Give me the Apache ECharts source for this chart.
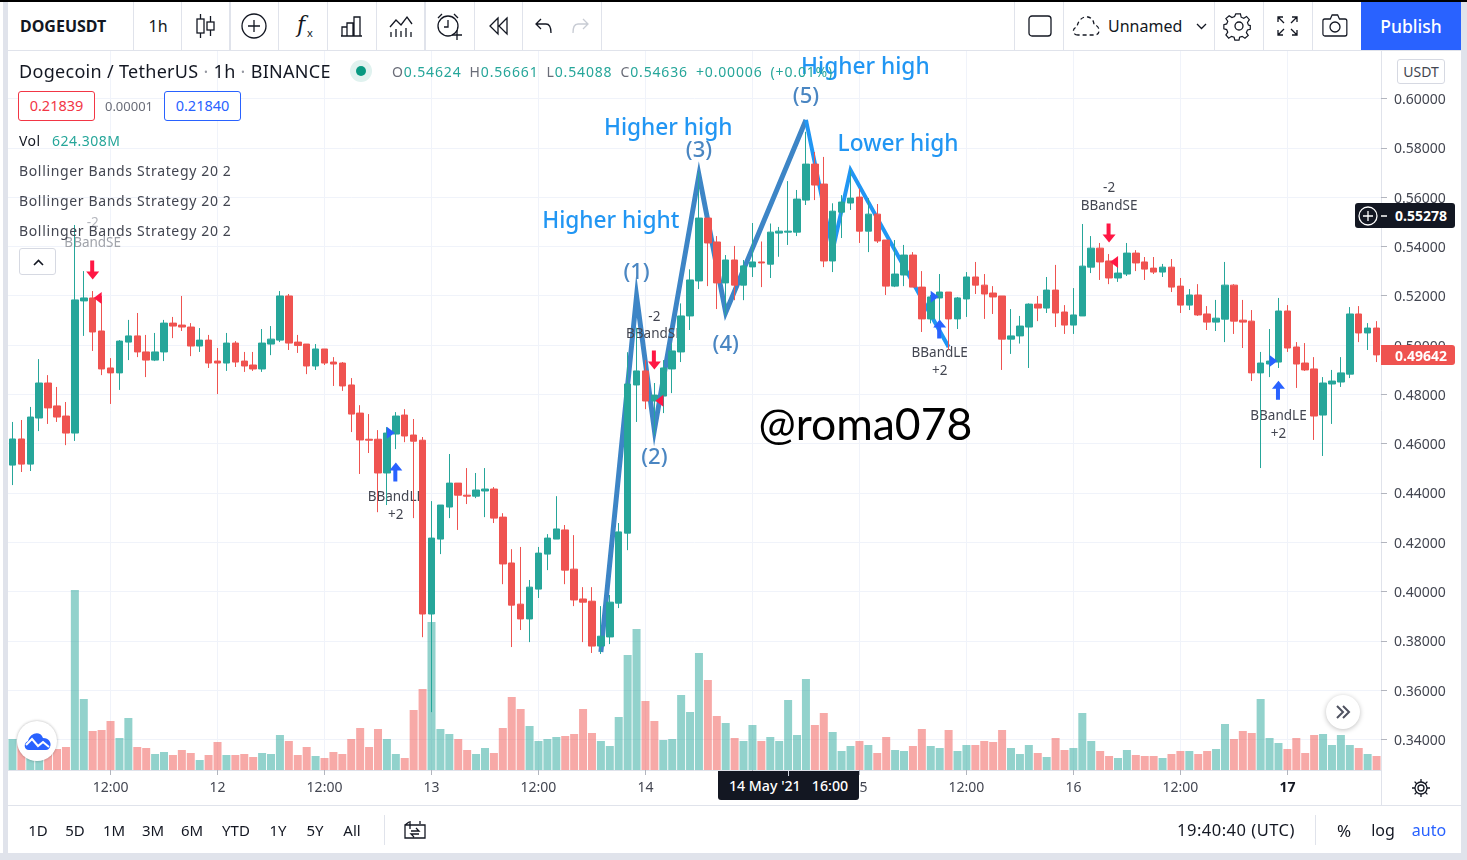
<!DOCTYPE html>
<html><head><meta charset="utf-8">
<script src="https://cdn.jsdelivr.net/npm/echarts@6/dist/echarts.min.js"></script>
<style>
html,body{margin:0;padding:0;width:1467px;height:860px;overflow:hidden;background:#fff;font-family:"Noto Sans",sans-serif;color:#131722}
#chart{position:absolute;left:0;top:0;width:1467px;height:860px}
.b{position:absolute;background:#e0e3eb}
.t{position:absolute;transform:translateY(-50%);white-space:nowrap;font-size:14px;line-height:1}
.c{position:absolute;transform:translate(-50%,-50%);white-space:nowrap;font-size:15px;line-height:1}
.box{position:absolute;box-sizing:border-box;border-radius:3px;display:flex;align-items:center;justify-content:center;font-size:14.5px;background:#fff}
svg{position:absolute;overflow:visible;fill:none;stroke:#131722;stroke-width:1.3}
</style></head><body>
<div id="chart"></div>
<div id="ui">
<div class="b" style="left:0;top:2px;width:1467px;height:48px;background:#fff"></div>
<div class="b" style="left:0;top:0;width:1467px;height:2px;background:#000"></div>
<div class="b" style="left:8px;top:50px;width:1453px;height:1px"></div>
<div class="b" style="left:3px;top:2px;width:5px;height:851px"></div>
<div class="b" style="left:1461px;top:2px;width:6px;height:858px"></div>
<div class="b" style="left:0;top:853px;width:1467px;height:7px"></div>
<div class="b" style="left:8px;top:805px;width:1453px;height:1px"></div>
<div class="b" style="left:1381px;top:770px;width:1px;height:35px"></div>
<div class="b" style="left:133px;top:2px;width:1px;height:48px"></div>
<div class="b" style="left:181px;top:2px;width:1px;height:48px"></div>
<div class="b" style="left:229px;top:2px;width:2px;height:48px"></div>
<div class="b" style="left:278px;top:2px;width:1px;height:48px"></div>
<div class="b" style="left:327px;top:2px;width:1px;height:48px"></div>
<div class="b" style="left:376px;top:2px;width:1px;height:48px"></div>
<div class="b" style="left:424px;top:2px;width:2px;height:48px"></div>
<div class="b" style="left:474px;top:2px;width:1px;height:48px"></div>
<div class="b" style="left:522px;top:2px;width:1px;height:48px"></div>
<div class="b" style="left:601px;top:2px;width:1px;height:48px"></div>
<div class="b" style="left:1014px;top:2px;width:1px;height:48px"></div>
<div class="b" style="left:1063px;top:2px;width:1px;height:48px"></div>
<div class="b" style="left:1214px;top:2px;width:1px;height:48px"></div>
<div class="b" style="left:1263px;top:2px;width:1px;height:48px"></div>
<div class="b" style="left:1312px;top:2px;width:1px;height:48px"></div>
<div class="t" style="left:20px;top:26px;font-size:16px;font-weight:700">DOGEUSDT</div>
<div class="c" style="left:158px;top:26px;font-size:16px">1h</div>
<svg style="left:195px;top:14px" width="22" height="24"><path d="M5.5 0v5M5.5 19v5M15.5 2v6M15.5 16v6"/><rect x="2" y="5" width="7" height="14"/><rect x="12" y="8" width="7" height="8"/></svg>
<svg style="left:241px;top:13px" width="26" height="26"><circle cx="13" cy="13" r="12"/><path d="M13 7v12M7 13h12"/></svg>
<div class="c" style="left:301px;top:25px;font-size:22px;font-style:italic;font-family:'DejaVu Serif'">f</div>
<div class="c" style="left:310px;top:32px;font-size:11px">x</div>
<svg style="left:340px;top:15px" width="23" height="22"><path d="M1 21h21M2 21v-9h5v9M7 21v-13h6v13M14 21v-19h6v19"/></svg>
<svg style="left:389px;top:15px" width="24" height="23"><path d="M1 12l6-7 5 5 6-8 5 7M2 22v-5M7 22v-8M12 22v-6M17 22v-9M22 22v-5"/></svg>
<svg style="left:436px;top:13px" width="28" height="28"><circle cx="12" cy="13" r="10"/><path d="M12 7v7h-4M2 5l4-4M18 1l4 4M16 22h10M21 17v10"/></svg>
<svg style="left:489px;top:17px" width="20" height="18"><path d="M9 1l-8 8 8 8zM18 1l-8 8 8 8z"/></svg>
<svg style="left:535px;top:18px" width="18" height="16"><path d="M6 1l-5 5 5 5M1 6h10c4 0 5 3 5 9"/></svg>
<svg style="left:571px;top:18px;stroke:#c8ccd4" width="18" height="16"><path d="M12 1l5 5-5 5M17 6h-10c-4 0-5 3-5 9"/></svg>
<svg style="left:1028px;top:15px" width="24" height="22"><rect x="1" y="1" width="22" height="20" rx="3"/></svg>
<svg style="left:1072px;top:15px;stroke-dasharray:4 3" width="30" height="22"><path d="M6 20c-6 0-6-7-1-8 1-7 6-11 11-10 4 1 6 4 6 8 6 0 7 10 1 10z"/></svg>
<div class="t" style="left:1108px;top:26px;font-size:16px">Unnamed</div>
<svg style="left:1196px;top:23px" width="11" height="7"><path d="M1 1l4.500 4.500 4.500-4.500"/></svg>
<svg style="left:1226px;top:13px" width="26" height="26"><circle cx="13" cy="13" r="4"/><path d="M10.500 1h5l.8 3.500 2.800 1.200 3-2 3 3.500-2 3 1 2.800 2 .5v4l-3 .8-1.200 2.800 2 3-3.500 3-3-2-2.800 1-.6 3h-4.500l-.8-3-2.800-1-3 2-3-3.500 2-3-1.200-2.800-3-.8v-4.500l3-.8 1.200-2.800-2-3 3.500-3 3 2 2.800-1.200z" transform="scale(.93)"/></svg>
<svg style="left:1277px;top:16px" width="21" height="20"><path d="M1 6v-5h5M1 1l6 6M20 6v-5h-5M20 1l-6 6M1 14v5h5M1 19l6-6M20 14v5h-5M20 19l-6-6"/></svg>
<svg style="left:1322px;top:14px" width="28" height="23"><path d="M3 5h6l2-4h6l2 4h6c1 0 2 1 2 2v13c0 1-1 2-2 2H3c-1 0-2-1-2-2V7c0-1 1-2 2-2z" transform="scale(.92,1)"/><circle cx="13" cy="13" r="5"/></svg>
<div class="box" style="left:1361px;top:2px;width:100px;height:48px;background:#2962ff;color:#fff;font-size:17.5px;font-weight:500;border-radius:0">Publish</div>

<div class="t" style="left:19px;top:71px;font-size:18px;letter-spacing:.3px">Dogecoin / TetherUS <span style="color:#9598a1">·</span> 1h <span style="color:#9598a1">·</span> BINANCE</div>
<div style="position:absolute;left:350px;top:60px;width:22px;height:22px;border-radius:50%;background:#e0f2ef"></div>
<div style="position:absolute;left:356px;top:66px;width:10px;height:10px;border-radius:50%;background:#089981"></div>
<div class="t" style="left:392px;top:72px;font-size:14px;color:#26a69a;letter-spacing:.85px;word-spacing:3.5px"><span style="color:#6a6d78">O</span>0.54624 <span style="color:#6a6d78">H</span>0.56661 <span style="color:#6a6d78">L</span>0.54088 <span style="color:#6a6d78">C</span>0.54636 +0.00006 (+0.01%)</div>
<div class="box" style="left:18px;top:91px;width:77px;height:30px;border:1px solid #f23645;color:#f23645;padding-bottom:2px">0.21839</div>
<div class="c" style="left:129px;top:106px;font-size:13px;color:#6a6d78">0.00001</div>
<div class="box" style="left:164px;top:91px;width:77px;height:30px;border:1px solid #2962ff;color:#2962ff;padding-bottom:2px">0.21840</div>
<div class="t" style="left:19px;top:141px;font-size:14px;color:#131722;letter-spacing:.5px">Vol</div>
<div class="t" style="left:52px;top:141px;font-size:14px;color:#26a69a;letter-spacing:.5px">624.308M</div>
<div class="t" style="left:19px;top:171px;font-size:14px;color:#434651;letter-spacing:.65px">Bollinger Bands Strategy 20 2</div>
<div class="t" style="left:19px;top:201px;font-size:14px;color:#434651;letter-spacing:.65px">Bollinger Bands Strategy 20 2</div>
<div class="t" style="left:19px;top:231px;font-size:14px;color:#434651;letter-spacing:.65px">Bollinger Bands Strategy 20 2</div>
<div class="box" style="left:19px;top:248px;width:37px;height:27px;border:1px solid #d6d9e2"><svg style="left:13px;top:10px" width="11" height="7"><path d="M1 6l4.500-4.500 4.500 4.500" stroke-width="1.600"/></svg></div>
<div class="box" style="left:1397px;top:59px;width:48px;height:25px;border:1px solid #d6d9e2;font-size:14px;color:#434651">USDT</div>

<div class="box" style="left:1355px;top:203px;width:100px;height:25px;background:#131722;color:#fff;font-size:14px;font-weight:700;justify-content:flex-end;padding-right:8px">0.55278</div>
<svg style="left:1358px;top:206px;stroke:#fff" width="20" height="20"><circle cx="10" cy="10" r="9"/><path d="M10 5v10M5 10h10M23 10h6"/></svg>
<div class="box" style="left:1381px;top:345px;width:74px;height:20px;background:#ef5350;color:#fff;font-size:14px;font-weight:700;justify-content:flex-end;padding-right:8px;border-radius:0 3px 3px 0">0.49642</div>

<div class="box" style="left:718px;top:771px;width:141px;height:29px;background:#131722;color:#fff;font-size:14.2px;font-weight:500;border-radius:0 0 3px 3px">14 May '21&nbsp;&nbsp;&nbsp;16:00</div>
<div style="position:absolute;left:788px;top:771px;width:1px;height:5px;background:#d1d4dc"></div>
<svg style="left:1412px;top:779px" width="18" height="18"><circle cx="9" cy="9" r="3"/><circle cx="9" cy="9" r="6"/><path d="M9 0v3M9 15v3M0 9h3M15 9h3M2.600 2.600l2.100 2.100M13.300 13.300l2.100 2.100M2.600 15.400l2.100-2.100M13.300 4.700l2.100-2.100"/></svg>

<div class="c" style="left:38px;top:829.5px">1D</div><div class="c" style="left:75px;top:829.5px">5D</div><div class="c" style="left:114px;top:829.5px">1M</div><div class="c" style="left:153px;top:829.5px">3M</div><div class="c" style="left:192px;top:829.5px">6M</div><div class="c" style="left:236px;top:829.5px">YTD</div><div class="c" style="left:278px;top:829.5px">1Y</div><div class="c" style="left:315px;top:829.5px">5Y</div><div class="c" style="left:352px;top:829.5px">All</div>
<div class="b" style="left:384px;top:815px;width:1px;height:30px"></div>
<svg style="left:404px;top:820px" width="22" height="19"><path d="M1 5h20v13H1zM6 1v8M16 1v3M1 5l4-3M7 11h8l-3-3M15 14H7l3 3"/></svg>
<div class="t" style="left:1177px;top:830px;font-size:16.5px;letter-spacing:.5px">19:40:40 (UTC)</div>
<div class="b" style="left:1315px;top:815px;width:1px;height:30px"></div>
<div class="c" style="left:1344px;top:830px;font-size:17px">%</div>
<div class="c" style="left:1383px;top:830px;font-size:16px">log</div>
<div class="c" style="left:1429px;top:830px;font-size:16px;color:#2962ff">auto</div>

<div style="position:absolute;left:17px;top:721px;width:40px;height:40px;border-radius:50%;background:#fff;box-shadow:0 0 3px rgba(0,0,0,.3)"></div>
<svg style="left:24px;top:732px;stroke:#fff;stroke-width:2" width="27" height="18"><path d="M5 18c-5 0-6-7-1-9 2-8 12-11 15-3 6 0 9 5 7 9-1 2-2 3-4 3z" fill="#2962ff" stroke="none"/><path d="M2 13l6-6 6 7 5-4 6 5"/></svg>
<div style="position:absolute;left:1326px;top:695px;width:34px;height:34px;border-radius:50%;background:#fff;box-shadow:0 1px 5px rgba(0,0,0,.25)"></div>
<svg style="left:1335px;top:704px;stroke:#4f5260;stroke-width:2" width="16" height="16"><path d="M2 2l6 6-6 6M8 2l6 6-6 6"/></svg>
</div>
<script>
const opens=[.4513,.4619,.4517,.4704,.4846,.4753,.4712,.4643,.5179,.5191,.5057,.4907,.4887,.5012,.5037,.4972,.4939,.4972,.5089,.5081,.5073,.4996,.5020,.4935,.4927,.5008,.4935,.4919,.4903,.5004,.5020,.5199,.5012,.5004,.4915,.4984,.4931,.4927,.4838,.4724,.4618,.4618,.4481,.4639,.4716,.4635,.4614,.3909,.4213,.4343,.4440,.4391,.4387,.4408,.4416,.4302,.4116,.3949,.3889,.4010,.4152,.4213,.4250,.4091,.3970,.3961,.3779,.3816,.3953,.4237,.4838,.4895,.4773,.4793,.4903,.4972,.5118,.5260,.5515,.5418,.5252,.5345,.5243,.5317,.5337,.5328,.5454,.5458,.5458,.5588,.5734,.5653,.5341,.5539,.5576,.5600,.5462,.5531,.5426,.5239,.5284,.5365,.5235,.5106,.5191,.5215,.5106,.5187,.5276,.5243,.5211,.5199,.5024,.5037,.5073,.5166,.5150,.5223,.5134,.5081,.5118,.5316,.5393,.5341,.5272,.5288,.5373,.5337,.5312,.5296,.5316,.5239,.5162,.5203,.5126,.5093,.5105,.5243,.5101,.5097,.4887,.4923,.4931,.5138,.4992,.4927,.4903,.4716,.4842,.4850,.4882,.5126,.5049,.5069];
const closes=[.4619,.4517,.4708,.4846,.4745,.4708,.4643,.5183,.5191,.5053,.4903,.4887,.5016,.5037,.4972,.4939,.4972,.5089,.5077,.5073,.4996,.5020,.4927,.4927,.5008,.4931,.4915,.4903,.5008,.5024,.5199,.5008,.4998,.4915,.4984,.4927,.4923,.4834,.4720,.4615,.4614,.4481,.4643,.4712,.4631,.4610,.3909,.4217,.4351,.4440,.4391,.4387,.4412,.4416,.4298,.4112,.3945,.3889,.4018,.4156,.4217,.4254,.4087,.3966,.3957,.3779,.3819,.3957,.4242,.4842,.4895,.4773,.4797,.4907,.4976,.5118,.5264,.5515,.5414,.5252,.5345,.5243,.5321,.5337,.5333,.5458,.5462,.5462,.5592,.5734,.5649,.5341,.5543,.5580,.5596,.5462,.5531,.5422,.5239,.5288,.5365,.5235,.5106,.5195,.5215,.5106,.5191,.5276,.5243,.5207,.5195,.5024,.5037,.5077,.5166,.5150,.5223,.5130,.5081,.5122,.5320,.5393,.5337,.5272,.5292,.5373,.5333,.5308,.5296,.5316,.5235,.5162,.5203,.5122,.5093,.5109,.5243,.5097,.5093,.4887,.4927,.4935,.5138,.4988,.4923,.4899,.4712,.4846,.4854,.4887,.5126,.5049,.5069,.4960];
const highs=[.4688,.4696,.4749,.4943,.4878,.4830,.4769,.5487,.5300,.5219,.5199,.4947,.5020,.5102,.5130,.5041,.5049,.5102,.5114,.5199,.5089,.5069,.5041,.4988,.5049,.5016,.4972,.4972,.5065,.5077,.5219,.5207,.5041,.5004,.5004,.4984,.4951,.4931,.4866,.4756,.4720,.4655,.4667,.4728,.4740,.4700,.4627,.4367,.4351,.4558,.4440,.4501,.4481,.4501,.4424,.4318,.4172,.4181,.4047,.4181,.4233,.4387,.4270,.4229,.4018,.4018,.3941,.3986,.4278,.4971,.5070,.4939,.4846,.4939,.5007,.5169,.5307,.5702,.5515,.5442,.5365,.5402,.5345,.5495,.5420,.5493,.5479,.5665,.5629,.5865,.5783,.5763,.5575,.5608,.5710,.5635,.5596,.5572,.5426,.5426,.5406,.5377,.5300,.5203,.5288,.5215,.5195,.5296,.5337,.5288,.5239,.5199,.5146,.5118,.5169,.5199,.5276,.5325,.5162,.5231,.5491,.5442,.5414,.5369,.5333,.5414,.5385,.5357,.5357,.5329,.5349,.5272,.5227,.5247,.5158,.5183,.5337,.5247,.5183,.5142,.4972,.5065,.5191,.5162,.5012,.5008,.4951,.4870,.4899,.4951,.5154,.5158,.5089,.5097];
const lows=[.4432,.4485,.4489,.4651,.4680,.4688,.4594,.4611,.5037,.4976,.4878,.4761,.4818,.4939,.4951,.4870,.4935,.4935,.5028,.5057,.4955,.4972,.4907,.4801,.4895,.4911,.4891,.4895,.4891,.4959,.5012,.4980,.4968,.4882,.4899,.4919,.4834,.4814,.4647,.4477,.4562,.4322,.4351,.4578,.4606,.4298,.3815,.3511,.4152,.4298,.4250,.4355,.4379,.4302,.4278,.4030,.3775,.3844,.3795,.3974,.4087,.4213,.4030,.3941,.3795,.3751,.3747,.3787,.3933,.4168,.4688,.4740,.4635,.4724,.4805,.4931,.5061,.5227,.5239,.5146,.5122,.5182,.5182,.5276,.5235,.5272,.5358,.5406,.5442,.5568,.5588,.5316,.5296,.5434,.5548,.5414,.5377,.5414,.5203,.5235,.5239,.5235,.5053,.5088,.5101,.4980,.5065,.5114,.5207,.5106,.5126,.4899,.4964,.5006,.4907,.5097,.5130,.5073,.5045,.5045,.5118,.5292,.5264,.5247,.5256,.5280,.5300,.5264,.5288,.5276,.5215,.5130,.5142,.5118,.5061,.5057,.5012,.5045,.4988,.4854,.4501,.4870,.4907,.4972,.4826,.4895,.4615,.4550,.4680,.4830,.4866,.5012,.4980,.4931];
const volumes=[279,240,210,195,180,189,207,1620,639,351,360,441,288,468,207,198,144,162,135,180,153,90,135,252,135,135,144,117,153,144,315,261,135,207,126,108,162,144,279,378,207,369,279,144,108,540,729,1332,369,324,279,180,144,198,153,378,657,549,396,261,279,297,306,324,549,333,261,216,477,1035,1269,621,441,270,279,675,522,1053,810,486,423,288,261,405,261,297,261,630,315,819,405,513,342,171,216,261,225,153,297,180,171,216,369,216,198,360,171,225,225,261,252,360,198,144,225,153,117,288,180,198,513,261,171,126,108,180,135,126,126,108,144,171,171,144,171,189,414,279,351,333,639,288,243,189,288,153,315,324,225,315,225,198,144,126];
const redVolumeOnGreenCandle=[72];
const tickLabels={11:'12:00',23:'12',35:'12:00',47:'13',59:'12:00',71:'14',83:'12:00',95:'15',107:'12:00',119:'16',131:'12:00',143:'17'};
const categories=opens.map((_,i)=>{const h=i+1;return 'May '+(11+Math.floor(h/24))+' '+String(h%24).padStart(2,'0')+':00';});
const waveDark=[[66,.3755],[70,.5199],[72,.4655],[77,.5690],[80,.5132],[89,.5913]];
const waveLight=[[89,.5913],[92,.5385],[94,.5710],[105,.4992]];
const sellArrows=[[9,.5304],[72,.4939],[123,.5454]];
const buyArrows=[[43,.4485],[104,.5065],[142,.4817]];
const sellFlags=[[9,.5191],[72,.4774],[123,.5337]];
const buyFlags=[[43,.4644],[104,.5196],[142,.4935]];
const signalLabels=[[9,.5499,'-2',0,'#b4b6bd'],[9,.5418,'BBandSE',0,'#a0a3aa'],[72,.5118,'-2'],[72,.5049,'BBandSE'],[123,.5641,'-2'],[123,.5568,'BBandSE'],[43,.4387,'BBandLE'],[43,.4314,'+2'],[104,.4972,'BBandLE'],[104,.4899,'+2'],[142,.4716,'BBandLE'],[142,.4643,'+2']];
const waveNotes=[[74,.5884,'Higher high',-4],[67,.5507,'Higher hight',1],[96,.6128,'Higher high',-3],[99,.5819,'Lower high',3]];
const waveNumbers=[[70,.5300,'(1)',0],[72,.4550,'(2)',0],[77,.5795,'(3)',0],[80,.5008,'(4)',0],[89,.6014,'(5)',0]];
const watermark=[[96,.4675,'@roma078',-3]];

const GREEN='#26a69a',RED='#ef5350',GRID='#f0f3fa',LINE='#e0e3eb';
const FONT='"Noto Sans",sans-serif';
const arrowDown='path://M4 0H8V11H13L6.500 19L0 11H4Z';
const arrowUp='path://M6.500 0L13 8H8V19H4V8H0Z';
const flagLeft='path://M8 0V12L0 6Z';
const flagRight='path://M0 0V12L8 6Z';
const pts=(data,dy)=>data.map(d=>{const label={formatter:d[2],offset:[d[3]||0,dy]};if(d[4])label.color=d[4];return {value:[d[0],d[1]],label};});
const textSeries=(data,z,dy,fontSize,color,extra)=>({type:'scatter',xAxisIndex:0,yAxisIndex:0,z,symbolSize:1,itemStyle:{color:'transparent',opacity:1},silent:true,data:pts(data,dy),
  label:Object.assign({show:true,position:'inside',fontFamily:FONT,fontSize,color,align:'center',verticalAlign:'middle'},extra||{})});
const markerSeries=(data,sym,size,color,offset)=>({type:'scatter',xAxisIndex:0,yAxisIndex:0,z:8,silent:true,symbol:sym,symbolSize:size,symbolOffset:offset||[0,0],itemStyle:{color,opacity:1},data});

const chart=echarts.init(document.getElementById('chart'),null,{width:1467,height:860});
chart.setOption({
  animation:false,
  backgroundColor:'#fff',
  tooltip:{show:false},
  grid:[
    {left:8,width:1373,top:49.2,height:690.3},
    {left:8,width:1373,top:51,height:719}
  ],
  xAxis:[
    {type:'category',gridIndex:0,data:categories,show:false},
    {type:'category',gridIndex:1,data:categories,
     axisLine:{show:true,lineStyle:{color:LINE}},
     axisTick:{show:true,alignWithLabel:true,length:5,interval:(i)=>tickLabels[i]!==undefined,lineStyle:{color:'#b2b5be'}},
     splitLine:{show:true,alignWithLabel:true,interval:(i)=>tickLabels[i]!==undefined,lineStyle:{color:GRID}},
     axisLabel:{show:true,interval:(i)=>tickLabels[i]!==undefined,margin:11,fontFamily:FONT,fontSize:14,color:'#434651',
       formatter:(v,i)=>tickLabels[i]==='17'?'{b|17}':tickLabels[i],rich:{b:{fontWeight:700,fontSize:14,fontFamily:FONT,color:'#131722'}}}}
  ],
  yAxis:[
    {type:'value',gridIndex:0,position:'right',min:.34,max:.62,interval:.02,
     axisLine:{show:false},
     axisTick:{show:true,length:6,lineStyle:{color:'#b2b5be'}},
     splitLine:{show:true,showMaxLine:false,lineStyle:{color:GRID}},
     axisLabel:{show:true,showMaxLabel:false,margin:13,color:'#434651',formatter:(v)=>'{p|'+v.toFixed(5)+'}',
       rich:{p:{padding:[3,0,0,0],fontFamily:FONT,fontSize:14,color:'#434651'}}}},
    {type:'value',gridIndex:1,position:'right',min:0,max:6471,
     axisLine:{show:true,lineStyle:{color:LINE}},axisTick:{show:false},axisLabel:{show:false},splitLine:{show:false}}
  ],
  series:[
    {name:'Volume',type:'bar',xAxisIndex:1,yAxisIndex:1,z:1,barWidth:8,silent:true,
     data:volumes.map((v,i)=>({value:v,itemStyle:{color:(closes[i]>=opens[i]&&!redVolumeOnGreenCandle.includes(i))?'rgba(38,166,154,.5)':'rgba(239,83,80,.5)'}}))},
    {name:'Wave 1-5',type:'line',xAxisIndex:0,yAxisIndex:0,z:2,data:waveDark,showSymbol:false,symbol:'none',silent:true,lineStyle:{color:'#3d85c6',width:5,join:'miter'}},
    {name:'Wave down',type:'line',xAxisIndex:0,yAxisIndex:0,z:2,data:waveLight,showSymbol:false,symbol:'none',silent:true,lineStyle:{color:'#2196f3',width:4,join:'miter'}},
    textSeries(signalLabels,3,1,13.5,'#434651'),
    {name:'DOGEUSDT',type:'candlestick',xAxisIndex:0,yAxisIndex:0,z:5,barWidth:7,silent:true,
     itemStyle:{color:GREEN,color0:RED,borderColor:GREEN,borderColor0:RED,borderWidth:1},
     data:opens.map((o,i)=>[o,closes[i],lows[i],highs[i]])},
    markerSeries(sellArrows,arrowDown,[13,19],'#ff1744'),
    markerSeries(buyArrows,arrowUp,[13,19],'#2962ff'),
    markerSeries(sellFlags,flagLeft,[8,12],'#ff1744',[5,0]),
    markerSeries(buyFlags,flagRight,[8,12],'#2962ff',[-5,0]),
    textSeries(waveNotes,9,1,22.7,'#2196f3',{fontWeight:500}),
    textSeries(waveNumbers,9,1.500,22,'#4a86c2',{fontWeight:500}),
    textSeries(watermark,9,0,44.500,'#000',{fontFamily:'Lato,sans-serif'})
  ]
});
</script>
</body></html>
